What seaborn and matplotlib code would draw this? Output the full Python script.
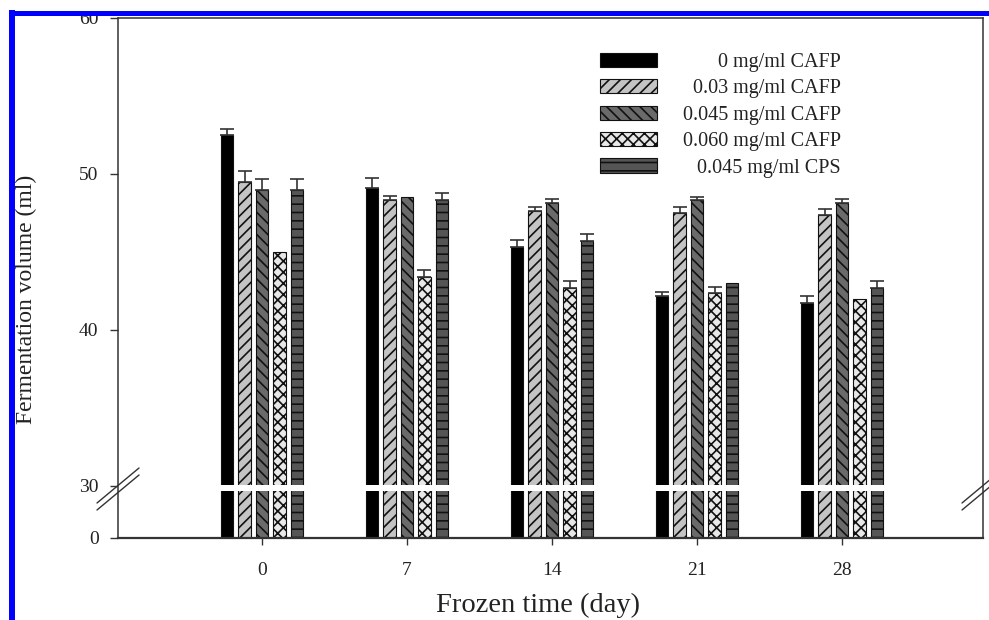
import numpy as np
import pandas as pd
import matplotlib
matplotlib.use("Agg")
import matplotlib.pyplot as plt
from matplotlib.lines import Line2D
from matplotlib.patches import Rectangle
import seaborn as sns

# ---------------- data ----------------
days = ["0", "7", "14", "21", "28"]
series = ["0 mg/ml CAFP", "0.03 mg/ml CAFP", "0.045 mg/ml CAFP",
          "0.060 mg/ml CAFP", "0.045 mg/ml CPS"]
vals_0 = [52.5, 49.1, 45.35, 42.2, 41.7]
vals_003 = [49.5, 48.35, 47.65, 47.5, 47.35]
vals_0045 = [49.0, 48.5, 48.15, 48.33, 48.15]
vals_0060 = [45.0, 43.4, 42.7, 42.35, 42.0]
vals_cps = [49.0, 48.35, 45.7, 43.0, 42.7]
err_0 = [0.4, 0.62, 0.45, 0.24, 0.47]
err_003 = [0.7, 0.24, 0.26, 0.4, 0.43]
err_0045 = [0.65, 0.0, 0.25, 0.22, 0.25]
err_0060 = [0.0, 0.43, 0.47, 0.43, 0.0]
err_cps = [0.7, 0.45, 0.45, 0.0, 0.47]
yticks = [0, 30, 40, 50, 60]

all_vals = [vals_0, vals_003, vals_0045, vals_0060, vals_cps]
all_errs = [err_0, err_003, err_0045, err_0060, err_cps]

rows = []
for s, v in zip(series, all_vals):
    for d, val in zip(days, v):
        rows.append({"day": d, "group": s, "value": val})
df = pd.DataFrame(rows)

# ---------------- style ----------------
sns.set_style("ticks")
plt.rcParams["font.family"] = ["Liberation Serif", "DejaVu Serif"]
plt.rcParams["hatch.linewidth"] = 1.2
txt = "#222222"

faces = ["#000000", "#c4c4c4", "#6a6a6a", "#e8e8e8", "#555555"]
hatches = ["", "///", "\\\\\\", "xxx", "--"]

fig = plt.figure(figsize=(9.89, 6.2), dpi=100)
W, H = 865.0, 520.0
ax = fig.add_axes([118 / 989, 1 - 538 / 620, W / 989, H / 620])

sns.barplot(data=df, x="day", y="value", hue="group", order=days,
            hue_order=series, palette=faces, saturation=1, width=0.603,
            gap=0.28, errorbar=None, legend=False, ax=ax,
            edgecolor="#111111", linewidth=0.8)

for cont, h in zip(ax.containers, hatches):
    for p in cont.patches:
        p.set_hatch(h)
        p.set_zorder(1)

# broken y scale: 0-30 compressed, 30-60 linear
K = (52.0 / 30.0) / 15.6


def fwd(v):
    v = np.asarray(v, dtype=float)
    return np.where(v <= 30, v * K, 30 * K + (v - 30))


def inv(u):
    u = np.asarray(u, dtype=float)
    return np.where(u <= 30 * K, u / K, u - 30 * K + 30)


ax.set_yscale("function", functions=(fwd, inv))
ax.set_ylim(0, 60)
ax.set_xlim(-0.993, 4.972)

# error bars (upper only)
for cont, v, e in zip(ax.containers, all_vals, all_errs):
    xs, ys, es = [], [], []
    for p, vv, ee in zip(cont.patches, v, e):
        if ee > 0:
            xs.append(p.get_x() + p.get_width() / 2)
            ys.append(vv)
            es.append(ee)
    ax.errorbar(xs, ys, yerr=[np.zeros(len(es)), es], fmt="none",
                ecolor="#333333", elinewidth=1.2, capsize=5, capthick=1.2,
                zorder=3)

# white break band across bars
ax.axhspan(27.1, 30.06, color="white", lw=0, zorder=1.5)

# spines
for sp in ax.spines.values():
    sp.set_visible(True)
    sp.set_color("#333333")
    sp.set_linewidth(1.1)
ax.spines["bottom"].set_linewidth(1.6)

ax.set_yticks(yticks)
ax.set_yticklabels([str(t) for t in yticks])
ax.yaxis.set_minor_locator(matplotlib.ticker.NullLocator())
ax.tick_params(axis="y", direction="out", length=6, width=1.0,
               colors="#333333", labelcolor=txt, labelsize=14, pad=8)
ax.tick_params(axis="x", direction="out", length=5, width=1.0,
               colors="#333333", labelcolor=txt, labelsize=14, pad=12)

# break marks
hw, hh, off, cy = 21 / W, 17.5 / H, 3.5 / H, 49 / H
for cx in (0.0, 1.0):
    for o in (-off, off):
        ax.plot([cx - hw, cx + hw], [cy + o - hh, cy + o + hh],
                transform=ax.transAxes, clip_on=False, color="#333333",
                lw=1.0, zorder=6)

ax.set_xlabel("Frozen time (day)", fontsize=20.5, color=txt)
ax.xaxis.label.set_va("baseline")
ax.xaxis.set_label_coords((538 - 118) / W, (538 - 612) / H)
ax.set_ylabel("Fermentation volume (ml)", fontsize=17, color=txt)
ax.yaxis.set_label_coords((37 - 118) / W, (538 - 299) / H)

# legend (handles + right-aligned labels)
row_c = [60, 86, 113, 139, 165.5]
for c, f, h, lab in zip(row_c, faces, hatches, series):
    ax.add_patch(Rectangle(((600 - 118) / W, (538 - c - 7.3) / H),
                           57 / W, 14.6 / H, transform=ax.transAxes,
                           facecolor=f, hatch=h, edgecolor="#111111",
                           linewidth=0.8, clip_on=False, zorder=4))
    ax.text((841 - 118) / W, (538 - c - 7) / H, lab, transform=ax.transAxes,
            ha="right", va="baseline", fontsize=14.5, color=txt)

# blue border (left and top)
fig.add_artist(Line2D([12 / 989, 12 / 989], [0, 1 - 10 / 620],
                      transform=fig.transFigure, color="#0000ff", lw=4.3,
                      solid_capstyle="butt"))
fig.add_artist(Line2D([9 / 989, 1], [1 - 12.5 / 620, 1 - 12.5 / 620],
                      transform=fig.transFigure, color="#0000ff", lw=3.6,
                      solid_capstyle="butt"))

fig.savefig("out.png", dpi=100)
